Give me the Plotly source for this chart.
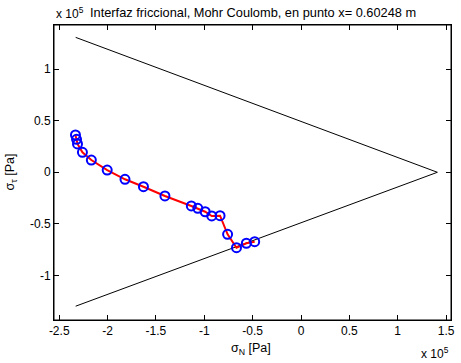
import plotly.graph_objects as go

# Mohr-Coulomb envelope (x 1e5 Pa)
env_sn = [-2.33, 1.41, -2.33]
env_st = [1.31, 0.0, -1.30]

# stress path (x 1e5 Pa)
sig_n = [-2.332, -2.321, -2.311, -2.260, -2.168, -2.004, -1.820, -1.629, -1.407,
         -1.134, -1.067, -0.991, -0.923, -0.837, -0.759, -0.667, -0.565, -0.479]
sig_t = [0.362, 0.320, 0.275, 0.194, 0.119, 0.022, -0.068, -0.140, -0.230,
         -0.327, -0.350, -0.383, -0.424, -0.421, -0.602, -0.732, -0.689, -0.674]

xticks = [-2.5, -2, -1.5, -1, -0.5, 0, 0.5, 1, 1.5]
xticklabels = ["-2.5", "-2", "-1.5", "-1", "-0.5", "0", "0.5", "1", "1.5"]
yticks = [-1, -0.5, 0, 0.5, 1]
yticklabels = ["-1", "-0.5", "0", "0.5", "1"]

FONT = "Liberation Sans, Arial, sans-serif"
FS = 12

fig = go.Figure()
fig.add_trace(go.Scatter(x=env_sn, y=env_st, mode="lines",
                         line=dict(color="black", width=1), hoverinfo="skip"))
fig.add_trace(go.Scatter(x=sig_n, y=sig_t, mode="lines",
                         line=dict(color="red", width=2)))
fig.add_trace(go.Scatter(x=sig_n, y=sig_t, mode="markers",
                         marker=dict(symbol="circle-open", size=9,
                                     color="blue", line=dict(color="blue", width=2))))

axis_common = dict(showgrid=False, zeroline=False, showline=True, linecolor="black",
                   linewidth=1, mirror="ticks", ticks="inside", ticklen=5,
                   tickcolor="black", tickwidth=1,
                   tickfont=dict(family=FONT, size=FS, color="black"))

fig.update_layout(
    width=461, height=363,
    margin=dict(l=54, r=6, t=25, b=43),
    paper_bgcolor="white", plot_bgcolor="white",
    showlegend=False,
    xaxis=dict(range=[-2.554, 1.551], tickvals=xticks, ticktext=xticklabels, **axis_common),
    yaxis=dict(range=[-1.434, 1.430], tickvals=yticks, ticktext=yticklabels, **axis_common),
    shapes=[dict(type="rect", xref="paper", yref="paper", x0=0, x1=1, y0=0, y1=1,
                 line=dict(color="black", width=1), layer="above")],
    annotations=[
        dict(text="Interfaz friccional, Mohr Coulomb, en punto x= 0.60248 m",
             xref="paper", yref="paper", x=(255 - 54) / 401, y=(320 - 13) / 295,
             xanchor="center", yanchor="middle", showarrow=False,
             font=dict(family=FONT, size=12.8, color="black")),
        dict(text="x 10<sup>5</sup>", xref="paper", yref="paper", x=0.0, y=(320 - 13) / 295,
             xanchor="left", yanchor="middle", showarrow=False,
             font=dict(family=FONT, size=FS, color="black")),
        dict(text="x 10<sup>5</sup>", xref="paper", yref="paper", x=1.0, y=(320 - 353) / 295,
             xanchor="right", yanchor="middle", showarrow=False,
             font=dict(family=FONT, size=FS, color="black")),
        dict(text="σ<sub>N</sub> [Pa]", xref="paper", yref="paper", x=(253 - 54) / 401,
             y=(320 - 349) / 295, xanchor="center", yanchor="middle", showarrow=False,
             font=dict(family=FONT, size=12.5, color="black")),
        dict(text="σ<sub>τ</sub> [Pa]", xref="paper", yref="paper", x=(11 - 54) / 401,
             y=(320 - 172) / 295, xanchor="center", yanchor="middle", showarrow=False,
             textangle=-90, font=dict(family=FONT, size=12.5, color="black")),
    ],
)

fig.write_html("out.html", config={"displayModeBar": False},
               post_script="document.body.style.margin='0';")
